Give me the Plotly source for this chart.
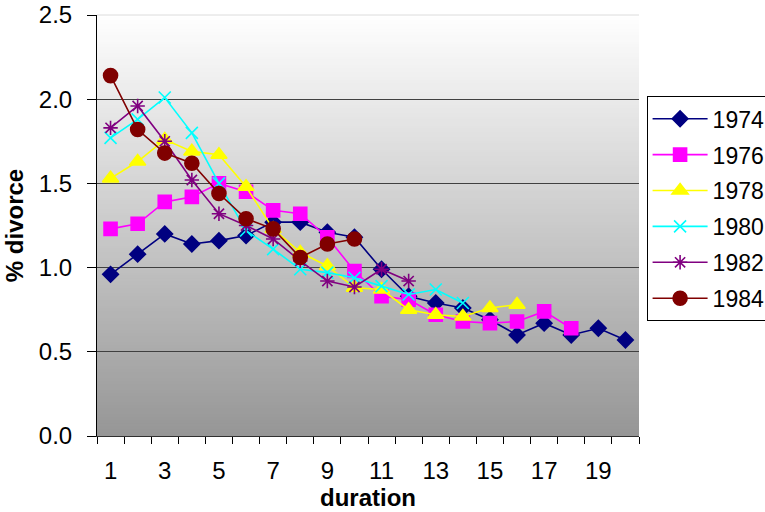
import plotly.graph_objects as go

# Divorce rate (%) by marriage duration, one series per marriage cohort
duration = list(range(1, 21))

cohort_1974 = [0.96, 1.08, 1.20, 1.14, 1.16, 1.19, 1.27, 1.27, 1.21, 1.18,
               0.99, 0.83, 0.79, 0.76, 0.69, 0.60, 0.67, 0.60, 0.64, 0.57]
cohort_1976 = [1.23, 1.26, 1.39, 1.42, 1.50, 1.45, 1.34, 1.32, 1.18, 0.98,
               0.83, 0.81, 0.72, 0.68, 0.67, 0.68, 0.74, 0.64]
cohort_1978 = [1.53, 1.63, 1.76, 1.69, 1.67, 1.48, 1.23, 1.09, 1.01, 0.88,
               0.87, 0.75, 0.72, 0.71, 0.76, 0.78]
cohort_1980 = [1.77, 1.88, 2.01, 1.80, 1.50, 1.22, 1.11, 0.99, 0.97, 0.94,
               0.89, 0.84, 0.87, 0.79]
cohort_1982 = [1.83, 1.96, 1.75, 1.52, 1.32, 1.25, 1.17, 1.04, 0.92, 0.885,
               0.99, 0.92]
cohort_1984 = [2.14, 1.82, 1.68, 1.62, 1.44, 1.29, 1.23, 1.06, 1.14, 1.17]

y_ticks = [0.0, 0.5, 1.0, 1.5, 2.0, 2.5]
x_label_ticks = [1, 3, 5, 7, 9, 11, 13, 15, 17, 19]

series = [
    ("1974", cohort_1974, "#000080", "diamond", 12),
    ("1976", cohort_1976, "#FF00FF", "square", 13),
    ("1978", cohort_1978, "#FFFF00", "triangle-up", 14),
    ("1980", cohort_1980, "#00FFFF", "x-thin-open", 12),
    ("1982", cohort_1982, "#800080", "asterisk-open", 12),
    ("1984", cohort_1984, "#800000", "circle", 14),
]

FONT = "Arial, 'Liberation Sans', sans-serif"

fig = go.Figure()
for name, vals, color, symbol, size in series:
    fig.add_trace(go.Scatter(
        x=duration[:len(vals)], y=vals, name=name, mode="lines+markers",
        line=dict(color=color, width=1.6),
        marker=dict(symbol=symbol, size=size, color=color,
                    line=dict(color=color, width=1.6)),
        legendgroup=name,
    ))

# Vertical white-to-grey gradient behind the plot area
n_bands = 140
top_rgb = (255, 255, 255)
bot_rgb = (150, 150, 150)
shapes = []
for i in range(n_bands):
    t = (i + 0.5) / n_bands
    c = [round(top_rgb[k] + (bot_rgb[k] - top_rgb[k]) * t) for k in range(3)]
    shapes.append(dict(
        type="rect", xref="paper", yref="paper", layer="below",
        x0=0, x1=1, y0=1 - (i + 1) / n_bands, y1=1 - i / n_bands + 0.002,
        fillcolor=f"rgb({c[0]},{c[1]},{c[2]})", line=dict(width=0),
    ))
# faint top border of the plot area
shapes.append(dict(type="line", xref="paper", yref="paper", layer="above",
                   x0=0, x1=1, y0=1, y1=1, line=dict(color="#dcdcdc", width=1)))

fig.update_layout(
    width=765, height=512,
    margin=dict(l=97, r=126, t=15, b=76, autoexpand=False),
    paper_bgcolor="white", plot_bgcolor="white",
    font=dict(family=FONT, size=24, color="black"),
    shapes=shapes,
    showlegend=True,
    legend=dict(
        x=1.014, xanchor="left", y=0.807, yanchor="top",
        bgcolor="white", bordercolor="black", borderwidth=1,
        font=dict(size=23), tracegroupgap=3, itemwidth=55,
    ),
    xaxis=dict(
        range=[0.5, 20.5], tickmode="array", tickvals=x_label_ticks,
        ticks="", showgrid=False, zeroline=False,
        showline=True, linecolor="#303030", linewidth=1,
        ticklabelstandoff=13,
        minor=dict(tick0=0.5, dtick=1, ticks="outside", ticklen=7,
                   tickcolor="black", showgrid=False),
        title=dict(text="<b>duration</b>", font=dict(size=24), standoff=0),
    ),
    yaxis=dict(
        range=[0, 2.5], tickmode="array", tickvals=y_ticks,
        tickformat=".1f", ticks="outside", ticklen=9, tickcolor="black",
        showline=True, linecolor="black", linewidth=1,
        ticklabelstandoff=10,
        showgrid=True, gridcolor="#404040", gridwidth=1, zeroline=False,
        title=dict(text="<b>% divorce</b>", font=dict(size=24), standoff=8),
    ),
)

fig.write_html("out.html")
